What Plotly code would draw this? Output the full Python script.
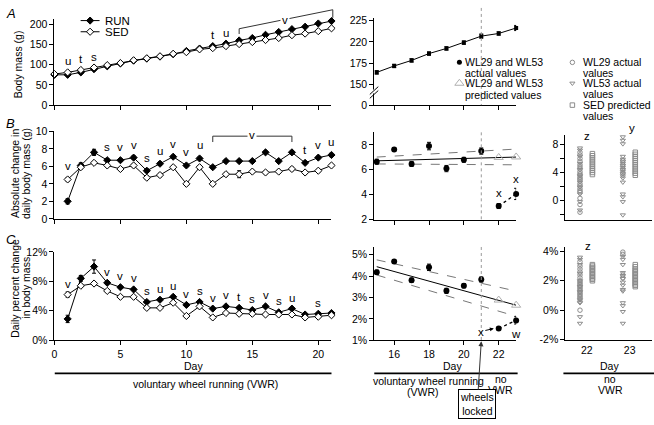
import plotly.graph_objects as go

W, H = 654, 425
FONT = "Liberation Sans, Arial, sans-serif"
GRAY = "#8c8c8c"
LGRAY = "#b0b0b0"
FS = 10.5

# ---------------- data ----------------
days_a = list(range(0, 22))
run_mass = [75, 75, 81, 89, 96, 103, 110, 115, 120, 126, 134, 140, 146, 152, 160, 166, 174, 181, 188, 194, 202, 208]
sed_mass = [77, 81, 87, 93, 99, 104, 111, 116, 121, 127, 131, 138, 141, 146, 151, 156, 161, 166, 173, 177, 183, 190]

days_bc = list(range(1, 22))
run_abs = [2.0, 6.1, 7.6, 6.7, 6.7, 7.0, 5.5, 6.3, 7.1, 6.1, 6.9, 5.9, 6.6, 6.6, 6.6, 7.6, 6.6, 7.6, 6.4, 7.0, 7.3]
run_abs_err = [0.3, 0.3, 0.35, 0.2, 0.15, 0.2, 0.2, 0.2, 0.15, 0.15, 0.15, 0.15, 0.15, 0.15, 0.15, 0.15, 0.15, 0.2, 0.15, 0.15, 0.2]
sed_abs = [4.5, 5.9, 6.4, 6.1, 5.7, 6.1, 4.7, 5.0, 5.9, 4.0, 5.9, 4.0, 5.1, 5.1, 5.4, 5.3, 5.4, 5.7, 5.3, 5.5, 6.1]
sed_abs_err = [0.2, 0.2, 0.15, 0.15, 0.15, 0.15, 0.2, 0.2, 0.15, 0.15, 0.15, 0.15, 0.2, 0.4, 0.15, 0.15, 0.15, 0.2, 0.15, 0.15, 0.15]

run_pct = [2.9, 8.4, 10.0, 7.8, 7.2, 6.9, 5.2, 5.5, 5.9, 4.8, 5.2, 4.3, 4.6, 4.4, 4.1, 4.6, 3.8, 4.3, 3.5, 3.6, 3.7]
run_pct_err = [0.5, 0.4, 0.9, 0.2, 0.15, 0.15, 0.15, 0.15, 0.15, 0.15, 0.15, 0.15, 0.1, 0.1, 0.1, 0.1, 0.1, 0.1, 0.1, 0.1, 0.1]
sed_pct = [6.2, 7.4, 7.7, 6.7, 5.9, 5.9, 4.4, 4.4, 5.1, 3.3, 4.6, 3.1, 3.7, 3.6, 3.6, 3.5, 3.5, 3.5, 3.1, 3.2, 3.4]
sed_pct_err = [0.35, 0.2, 0.15, 0.15, 0.1, 0.1, 0.15, 0.1, 0.1, 0.1, 0.1, 0.1, 0.1, 0.2, 0.1, 0.1, 0.1, 0.1, 0.1, 0.1, 0.1]

mid_days = list(range(15, 24))
mid_mass = [164.4, 171.9, 178.4, 186.4, 192.4, 199.2, 206.8, 209.9, 216.3]
mid_mass_err = [2.0, 2.0, 2.0, 2.0, 2.0, 2.0, 2.5, 2.0, 3.0]
mid_abs = [6.65, 7.63, 6.47, 7.9, 6.1, 6.8, 7.5, 3.1, 4.07]
mid_abs_err = [0.2, 0.15, 0.2, 0.3, 0.25, 0.2, 0.25, 0.2, 0.45]
mid_pct = [4.18, 4.68, 3.81, 4.41, 3.31, 3.55, 3.84, 1.55, 1.93]
mid_pct_err = [0.1, 0.08, 0.1, 0.15, 0.12, 0.1, 0.12, 0.07, 0.17]

pred_days = [22, 23]
pred_abs = [6.99, 7.03]
pred_pct = [2.88, 2.64]

reg_days = [15, 23]
reg_abs_fit = [6.72, 7.02]
reg_abs_hi = [7.02, 7.66]
reg_abs_lo = [6.47, 6.40]
reg_pct_fit = [4.44, 2.64]
reg_pct_hi = [4.76, 3.30]
reg_pct_lo = [4.05, 2.12]

# right column: individual animals (days 22 and 23)
b22_wl29 = [6.9, 6.5, 6.0, 5.6, 5.1, 4.8, 4.5, 4.1, 3.8, 3.6, 3.3, 3.1, 2.9, 2.4, 2.1, 1.7, 1.4, 1.2, 0.3, -0.6, -1.7]
b22_wl53 = [7.5, 7.2, 6.3, 5.3, 4.4, 3.5, 2.6, 1.9, 0.9, -0.2, -1.4]
b22_sed = [6.7, 6.4, 6.1, 5.8, 5.5, 5.2, 4.9, 4.6, 4.3, 4.0, 3.7]
b23_wl29 = [5.7, 5.1, 4.5, 3.9]
b23_wl53 = [9.1, 8.6, 8.1, 6.3, 5.9, 5.6, 5.3, 5.0, 4.7, 4.4, 4.1, 3.8, 3.5, 3.2, 2.6, 0.9, 0.5, -0.2, -2.1]
b23_sed = [6.9, 6.6, 6.3, 6.0, 5.7, 5.4, 5.1, 4.8, 4.5, 4.2, 3.9, 3.6]

c22_wl29 = [3.3, 3.0, 2.8, 2.6, 2.4, 2.2, 2.0, 1.9, 1.8, 1.7, 1.6, 1.5, 1.4, 1.3, 1.2, 1.1, 1.0, 0.9, 0.8, 0.6, 0.0]
c22_wl53 = [3.6, 3.45, 3.1, 2.5, 2.0, 1.6, 1.25, 0.7, 0.5, -0.45, -0.9]
c22_sed = [3.1, 3.0, 2.9, 2.8, 2.7, 2.6, 2.5, 2.4, 2.3, 2.2, 2.1, 2.0]
c23_wl29 = [3.95, 3.8, 2.4, 2.2]
c23_wl53 = [3.65, 3.45, 3.1, 2.55, 2.35, 2.15, 1.9, 1.7, 1.4, 1.3, 0.5, 0.3, -0.1, -0.9]
c23_sed = [3.1, 2.95, 2.8, 2.7, 2.6, 2.5, 2.4, 2.3, 2.2, 2.1, 2.0, 1.9, 1.8, 1.7, 1.6]

left_ticks = [0, 5, 10, 15, 20]
mid_ticks = [16, 18, 20, 22]
lock_day = 21

a_letters = [(1, "u"), (2, "t"), (3, "s"), (12, "t"), (13, "u")]
b_letters = [(1, "v"), (4, "s"), (5, "v"), (6, "v"), (7, "s"), (8, "u"), (9, "v"), (10, "v"),
             (11, "u"), (19, "t"), (20, "v"), (21, "u")]
c_letters = [(1, "v"), (4, "v"), (5, "v"), (6, "v"), (7, "s"), (8, "u"), (9, "u"), (10, "v"),
             (11, "s"), (12, "v"), (13, "v"), (14, "t"), (15, "s"), (16, "v"), (17, "s"), (18, "u"), (20, "s")]

# ---------------- geometry (pixel domains) ----------------
AX = {
    1: dict(xd=(51.7, 330), yd=(13, 102), xr=(0, 21), yr=(0, 214)),
    2: dict(xd=(51.7, 330), yd=(129, 219), xr=(0, 21), yr=(0, 10)),
    3: dict(xd=(51.7, 330), yd=(253, 344), xr=(0, 21), yr=(0, 12)),
    4: dict(xd=(373, 515.5), yd=(12, 102), xr=(14.86, 23.0), yr=(126.1, 228.4)),
    5: dict(xd=(373, 515.5), yd=(130, 220), xr=(14.86, 23.0), yr=(2, 9)),
    6: dict(xd=(373, 515.5), yd=(248, 344), xr=(14.86, 23.0), yr=(1, 5.36)),
    7: dict(xd=(565, 652), yd=(133, 220), xr=(21.5, 23.52), yr=(-2.79, 9.34)),
    8: dict(xd=(565, 652), yd=(248, 344), xr=(21.5, 23.52), yr=(-2.05, 4.3)),
}


def PX(x):
    return x / W


def PY(y):
    return 1 - y / H


def d2p(i, xv, yv):
    a = AX[i]
    fx = (xv - a["xr"][0]) / (a["xr"][1] - a["xr"][0])
    fy = (yv - a["yr"][0]) / (a["yr"][1] - a["yr"][0])
    px = a["xd"][0] + fx * (a["xd"][1] - a["xd"][0])
    py = a["yd"][1] - fy * (a["yd"][1] - a["yd"][0])
    return px, py


tickfont = dict(family=FONT, size=FS, color="black")
layout = dict(
    width=W, height=H, autosize=False,
    margin=dict(l=0, r=0, t=0, b=0),
    paper_bgcolor="white", plot_bgcolor="rgba(0,0,0,0)",
    showlegend=False, font=dict(family=FONT, size=FS, color="black"),
)


def sfx(i):
    return "" if i == 1 else str(i)


def axis_common():
    return dict(showline=True, linecolor="black", linewidth=1, showgrid=False, zeroline=False,
                ticks="outside", ticklen=4, tickwidth=1, tickcolor="black", tickfont=tickfont,
                fixedrange=True)


xcfg = {
    1: dict(tickvals=left_ticks, showticklabels=False),
    2: dict(tickvals=left_ticks, showticklabels=False),
    3: dict(tickvals=left_ticks, showticklabels=True),
    4: dict(tickvals=mid_ticks, showticklabels=False),
    5: dict(tickvals=mid_ticks, showticklabels=False),
    6: dict(tickvals=mid_ticks, showticklabels=True),
    7: dict(tickvals=[22, 23], showticklabels=False, ticks=""),
    8: dict(tickvals=[22, 23], showticklabels=True, ticks=""),
}
ycfg = {
    1: dict(tickvals=[0, 50, 100, 150, 200]),
    2: dict(tickvals=[0, 2, 4, 6, 8, 10]),
    3: dict(tickvals=[0, 4, 8, 12], ticktext=["0%", "4%", "8%", "12%"]),
    4: dict(tickvals=[126.1, 150, 175, 200, 225], ticktext=["0", "150", "175", "220", "225"]),
    5: dict(tickvals=[2, 4, 6, 8]),
    6: dict(tickvals=[1, 2, 3, 4, 5], ticktext=["1%", "2%", "3%", "4%", "5%"]),
    7: dict(tickvals=[-2, 0, 2, 4, 6, 8], ticktext=["", "0", "", "4", "", "8"]),
    8: dict(tickvals=[-2, 0, 2, 4], ticktext=["-2%", "0%", "2%", "4%"]),
}
for i, a in AX.items():
    xa = axis_common()
    xa.update(domain=[PX(a["xd"][0]), PX(a["xd"][1])], range=list(a["xr"]), anchor="y" + sfx(i))
    xa.update(xcfg[i])
    ya = axis_common()
    ya.update(domain=[PY(a["yd"][1]), PY(a["yd"][0])], range=list(a["yr"]), anchor="x" + sfx(i))
    ya.update(ycfg[i])
    layout["xaxis" + sfx(i)] = xa
    layout["yaxis" + sfx(i)] = ya

# overlay pixel frame for legend glyphs
layout["xaxis9"] = dict(domain=[0, 1], range=[0, W], visible=False, fixedrange=True, anchor="y9")
layout["yaxis9"] = dict(domain=[0, 1], range=[H, 0], visible=False, fixedrange=True, anchor="x9")

fig = go.Figure(layout=layout)


def err(arr):
    return dict(type="data", array=arr, visible=True, width=2, thickness=1, color="black")


def add(i, **kw):
    kw.setdefault("cliponaxis", False)
    fig.add_trace(go.Scatter(xaxis="x" + sfx(i), yaxis="y" + sfx(i), hoverinfo="skip", **kw))


run_m = dict(symbol="diamond", size=5.5, color="black", line=dict(color="black", width=1))
sed_m = dict(symbol="diamond", size=5.5, color="white", line=dict(color="black", width=1))
ln = dict(color="black", width=1)

# ---- left column ----
add(1, x=days_a, y=run_mass, mode="lines+markers", marker=run_m, line=ln)
add(1, x=days_a, y=sed_mass, mode="lines+markers", marker=sed_m, line=ln)
add(2, x=days_bc, y=run_abs, mode="lines+markers", marker=run_m, line=ln, error_y=err(run_abs_err))
add(2, x=days_bc, y=sed_abs, mode="lines+markers", marker=sed_m, line=ln, error_y=err(sed_abs_err))
add(3, x=days_bc, y=run_pct, mode="lines+markers", marker=run_m, line=ln, error_y=err(run_pct_err))
add(3, x=days_bc, y=sed_pct, mode="lines+markers", marker=sed_m, line=ln, error_y=err(sed_pct_err))

# ---- middle column ----
dot_m = dict(symbol="circle", size=6, color="black")
tri_m = dict(symbol="triangle-up-open", size=8, color=LGRAY, line=dict(color=LGRAY, width=1))
add(4, x=mid_days, y=mid_mass, mode="lines+markers", marker=dict(symbol="square", size=4, color="black"),
    line=ln, error_y=err(mid_mass_err))

add(5, x=reg_days, y=reg_abs_hi, mode="lines", line=dict(color="#777", width=1, dash="dash"))
add(5, x=reg_days, y=reg_abs_lo, mode="lines", line=dict(color="#777", width=1, dash="dash"))
add(5, x=reg_days, y=reg_abs_fit, mode="lines", line=dict(color="black", width=1))
add(5, x=pred_days, y=pred_abs, mode="markers", marker=tri_m)
add(5, x=mid_days[7:], y=mid_abs[7:], mode="lines", line=dict(color="black", width=1.3, dash="dot"))
add(5, x=mid_days, y=mid_abs, mode="markers", marker=dot_m, error_y=err(mid_abs_err))

add(6, x=reg_days, y=reg_pct_hi, mode="lines", line=dict(color="#777", width=1, dash="dash"))
add(6, x=reg_days, y=reg_pct_lo, mode="lines", line=dict(color="#777", width=1, dash="dash"))
add(6, x=reg_days, y=reg_pct_fit, mode="lines", line=dict(color="black", width=1))
add(6, x=pred_days, y=pred_pct, mode="markers", marker=tri_m)
add(6, x=mid_days[7:], y=mid_pct[7:], mode="lines", line=dict(color="black", width=1.3, dash="dot"))
add(6, x=mid_days, y=mid_pct, mode="markers", marker=dot_m, error_y=err(mid_pct_err))

# ---- right column ----
OFF_L, OFF_R = -0.16, 0.13


def om(sym, size=4.5):
    return dict(symbol=sym, size=size, color=GRAY, line=dict(color=GRAY, width=1))


for i, sets in ((7, [(22, b22_wl29, b22_wl53, b22_sed), (23, b23_wl29, b23_wl53, b23_sed)]),
                (8, [(22, c22_wl29, c22_wl53, c22_sed), (23, c23_wl29, c23_wl53, c23_sed)])):
    for day, wl29, wl53, sed in sets:
        add(i, x=[day + OFF_L] * len(wl29), y=wl29, mode="markers", marker=om("circle-open"))
        add(i, x=[day + OFF_L] * len(wl53), y=wl53, mode="markers", marker=om("triangle-down-open"))
        add(i, x=[day + OFF_R] * len(sed), y=sed, mode="markers", marker=om("square-open"))


# ---- legend glyphs (pixel frame) ----
def add9(**kw):
    fig.add_trace(go.Scatter(xaxis="x9", yaxis="y9", hoverinfo="skip", cliponaxis=False, **kw))


add9(x=[78, 97], y=[15, 15], mode="lines", line=ln)
add9(x=[87.5], y=[15], mode="markers", marker=run_m)
add9(x=[78, 97], y=[26.5, 26.5], mode="lines", line=ln)
add9(x=[87.5], y=[26.5], mode="markers", marker=sed_m)
add9(x=[458.5], y=[58], mode="markers", marker=dict(symbol="circle", size=5, color="black"))
add9(x=[458.5], y=[79.5], mode="markers", marker=tri_m)
add9(x=[572], y=[58], mode="markers", marker=om("circle-open"))
add9(x=[572], y=[79.5], mode="markers", marker=om("triangle-down-open"))
add9(x=[572], y=[102], mode="markers", marker=om("square-open"))

# ---------------- annotations ----------------
ann = []


def text(x, y, s, size=FS, xanchor="center", yanchor="middle", **kw):
    ann.append(dict(x=PX(x), y=PY(y), xref="paper", yref="paper", text=s, showarrow=False,
                    xanchor=xanchor, yanchor=yanchor, font=dict(family=FONT, size=size, color="black"), **kw))


# panel letters
text(8, 8, "<i>A</i>", size=13)
text(8, 121, "<i>B</i>", size=13)
text(8, 240, "<i>C</i>", size=13)

# y titles
text(15, 60, "Body mass (g)", textangle=-90)
text(12, 172, "Absolute change in", textangle=-90)
text(23, 172, "daily body mass (g)", textangle=-90)
text(12, 290, "Daily percent change", textangle=-90)
text(23, 290, "in body mass", textangle=-90)

# legends
text(100, 15, "RUN", size=11.5, xanchor="left")
text(100, 26.5, "SED", size=11.5, xanchor="left")
for y, s in ((57.5, "WL29 and WL53"), (68.5, "actual values"), (79.5, "WL29 and WL53"), (91.5, "predicted values")):
    text(462, y, s, size=10.5, xanchor="left")
for y, s in ((57.5, "WL29 actual"), (68.5, "values"), (79.5, "WL53 actual"), (91, "values"),
             (102, "SED predicted"), (113.5, "values")):
    text(581, y, s, size=10.5, xanchor="left")

# significance letters above the daily points
for i, letters, series, shift in ((1, a_letters, (run_mass, sed_mass), 11),
                                  (2, b_letters, (run_abs, sed_abs), 13),
                                  (3, c_letters, (run_pct, sed_pct), 11)):
    first = 0 if i == 1 else 1
    for d, s in letters:
        top = max(series[0][d - first], series[1][d - first])
        ann.append(dict(x=d, y=top, xref="x" + sfx(i), yref="y" + sfx(i), text=s, showarrow=False,
                        yshift=shift, font=dict(family=FONT, size=11.5, color="black")))

# middle panel letters
for d, s, sh in ((22, "x", 13), (23, "x", 15)):
    k = mid_days.index(d)
    ann.append(dict(x=d, y=mid_abs[k], xref="x5", yref="y5", text=s, showarrow=False, yshift=sh,
                    font=dict(family=FONT, size=11.5, color="black")))
k23 = mid_days.index(23)
ann.append(dict(x=23, y=mid_pct[k23], xref="x6", yref="y6", text="w", showarrow=False, yshift=-14,
                font=dict(family=FONT, size=11.5, color="black")))
hx, hy = d2p(6, 21.72, mid_pct[7])
ann.append(dict(x=PX(hx), y=PY(hy), xref="paper", yref="paper", ax=-13, ay=3, text="x", showarrow=True,
                arrowhead=2, arrowsize=0.8, arrowwidth=1, arrowcolor="black",
                font=dict(family=FONT, size=11.5, color="black")))

# right panel letters
text(587, 134, "z", size=11.5)
text(632, 126, "y", size=11.5)
text(588, 247, "z", size=11.5)

# bottom labels
text(191, 370, "Day")
text(203, 389, "voluntary wheel running (VWR)")
text(452, 370, "Day")
text(427, 386, "voluntary wheel running")
text(422, 397, "(VWR)")
text(500, 384, "no")
text(500, 395, "VWR")
text(609, 370, "Day")
text(610, 384, "no")
text(610, 395, "VWR")

# wheels locked box with arrow
lx, ly = d2p(6, lock_day, AX[6]["yr"][0])
ann.append(dict(x=PX(lx), y=PY(ly + 1), xref="paper", yref="paper", ax=-4, ay=63,
                text="wheels<br>locked", showarrow=True, arrowhead=2, arrowsize=1, arrowwidth=1,
                arrowcolor="#333", bordercolor="black", borderwidth=1, borderpad=1, bgcolor="white",
                font=dict(family=FONT, size=FS, color="black")))

# ---------------- shapes ----------------
shapes = []


def seg(x0, y0, x1, y1, color="black", width=1, dash=None):
    line = dict(color=color, width=width)
    if dash:
        line["dash"] = dash
    shapes.append(dict(type="line", xref="paper", yref="paper", x0=PX(x0), y0=PY(y0), x1=PX(x1), y1=PY(y1),
                       line=line, layer="above"))


def poly(i, pts, color="#333"):
    pp = [d2p(i, x, y) for x, y in pts]
    for (x0, y0), (x1, y1) in zip(pp[:-1], pp[1:]):
        seg(x0, y0, x1, y1, color=color)


# brackets
poly(1, [(14, 176), (14, 189), (21.1, 236), (21.1, 216)])
bx, by = d2p(1, 17.5, 211.5)
text(bx, by, "v", size=11.5, bgcolor="white")
poly(2, [(12, 8.78), (12, 9.45), (18, 9.45), (18, 8.78)])
bx, by = d2p(2, 15, 9.45)
text(bx, by - 1, "v", size=11.5, bgcolor="white")

# wheel-lock dotted lines in the middle column
for i, top_px in ((4, 2), (5, AX[5]["yd"][0]), (6, AX[6]["yd"][0])):
    x0, yb = d2p(i, lock_day, AX[i]["yr"][0])
    seg(x0, top_px, x0, yb, color="#9a9a9a", width=1, dash="dot")

# axis break on the middle A axis
shapes.append(dict(type="rect", xref="paper", yref="paper", x0=PX(370), x1=PX(376), y0=PY(90), y1=PY(86),
                   fillcolor="white", line=dict(width=0), layer="above"))
seg(368.5, 91, 377, 83)
seg(368.5, 95, 377, 87)

# underline bars for the treatment labels
seg(52, 378, 330, 378, width=1.6)
seg(373, 378, 517, 378, width=1.6)
seg(563, 378, 654, 378, width=1.6)

fig.update_layout(annotations=ann, shapes=shapes)
fig.write_html("out.html", config={"displayModeBar": False},
               post_script="document.body.style.margin='0';document.body.style.padding='0';"
                           "document.body.style.overflow='hidden';")
